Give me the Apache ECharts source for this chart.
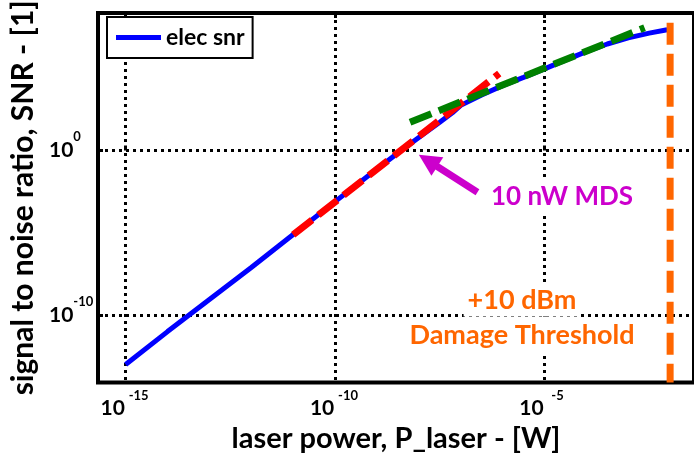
<!DOCTYPE html>
<html>
<head>
<meta charset="utf-8">
<script src="https://cdn.jsdelivr.net/npm/echarts@6/dist/echarts.min.js"></script>
<style>
  html, body { margin: 0; padding: 0; background: #fff; }
  #chart { width: 694px; height: 458px; }
</style>
</head>
<body>
<div id="chart"></div>
<script>
// All values are stored as base-10 exponents: power in W, SNR dimensionless.
// Electrical SNR versus laser power
const powerExp = [-15, -14, -13, -12, -11, -10, -9, -8.5, -8, -7.5, -7.2, -7, -6.5, -6, -5.5, -5, -4.5, -4, -3.5, -3, -2.5, -2.07];
const snrExp   = [-13.0, -11.0, -9.05, -7.1, -5.1, -3.1, -1.12, -0.15, 0.8, 1.72, 2.3, 2.75, 3.38, 3.95, 4.45, 4.97, 5.5, 6.02, 6.48, 6.85, 7.14, 7.35];

// Low-power asymptote (SNR ~ P^2)
const fitLowPowerExp = [-11.0, -6.08];
const fitLowSnrExp   = [-5.11, 4.69];

// High-power asymptote (SNR ~ P)
const fitHighPowerExp = [-8.21, -2.61];
const fitHighSnrExp   = [1.72, 7.47];

// Tick positions
const xTickExp = [-15, -10, -5];
const yTickExp = [0, -10];

// Annotations
const damageDbm = 10;          // laser damage threshold, dBm
const damageTopSnrExp = 7.77;  // top end of the threshold marker
const mdsWatts = 10e-9;        // minimum detectable signal, W
const mdsTipSnrExp = -0.25;
const mdsTailPowerExp = -6.6;
const mdsTailSnrExp = -2.53;

const X_MIN = -15.66, X_MAX = -1.43;
const Y_MIN = -14.1, Y_MAX = 8.36;

const FONT = 'Lato';
const damageExp = Math.log10(Math.pow(10, damageDbm / 10) / 1000);
const mdsExp = Math.log10(mdsWatts);

const zip = (xs, ys) => xs.map((x, i) => [x, ys[i]]);

const xRich = {
  b: { fontFamily: FONT, fontWeight: 'bold', fontSize: 21, color: '#000', width: 26, align: 'right', lineHeight: 38, verticalAlign: 'middle' },
  s: { fontFamily: FONT, fontWeight: 'bold', fontSize: 13, color: '#000', width: 26, align: 'left', lineHeight: 13, verticalAlign: 'top' }
};
const yRich = {
  b: { fontFamily: FONT, fontWeight: 'bold', fontSize: 21, color: '#000', lineHeight: 40, verticalAlign: 'middle' },
  s: { fontFamily: FONT, fontWeight: 'bold', fontSize: 13, color: '#000', lineHeight: 13, verticalAlign: 'top' }
};
const powLabel = v => '{b|10}{s|' + Math.round(v) + '}';

const dotted = { color: '#000', width: 3, type: [3, 4] };

const chart = echarts.init(document.getElementById('chart'), null, { renderer: 'canvas' });

chart.setOption({
  animation: false,
  backgroundColor: '#fff',
  grid: {
    left: 98, right: -6, top: 10, bottom: 70,
    show: true, borderColor: '#000', borderWidth: 4, backgroundColor: 'transparent',
    containLabel: false
  },
  legend: {
    left: 107, top: 17,
    padding: [9, 8, 9, 9],
    borderColor: '#000', borderWidth: 2, borderRadius: 0,
    backgroundColor: '#fff',
    itemWidth: 45, itemHeight: 5,
    data: [{ name: 'elec snr', icon: 'rect', itemStyle: { color: '#0000ff' } }],
    textStyle: { fontFamily: FONT, fontWeight: 'bold', fontSize: 23, color: '#000', lineHeight: 23 }
  },
  xAxis: [{
    type: 'value', min: X_MIN, max: X_MAX,
    name: 'laser power, P_laser - [W]', nameLocation: 'middle', nameGap: 38,
    nameTextStyle: { fontFamily: FONT, fontWeight: 'bold', fontSize: 29, color: '#000' },
    axisLine: { show: false },
    axisTick: { show: true, inside: true, length: 5, lineStyle: { color: '#000', width: 3 }, customValues: xTickExp },
    axisLabel: { show: true, margin: 7, customValues: xTickExp, formatter: powLabel, rich: xRich },
    splitLine: { show: true, lineStyle: dotted }
  }, {
    type: 'value', min: X_MIN, max: X_MAX, position: 'top',
    axisLine: { show: false },
    axisTick: { show: true, inside: true, length: 5, lineStyle: { color: '#000', width: 3 }, customValues: xTickExp },
    axisLabel: { show: false },
    splitLine: { show: false }
  }],
  yAxis: {
    type: 'value', min: Y_MIN, max: Y_MAX,
    name: 'signal to noise ratio, SNR - [1]', nameLocation: 'middle', nameGap: 55,
    nameTextStyle: { fontFamily: FONT, fontWeight: 'bold', fontSize: 30, color: '#000' },
    axisLine: { show: false },
    axisTick: { show: true, inside: true, length: 5, lineStyle: { color: '#000', width: 3 }, customValues: yTickExp },
    axisLabel: { show: true, margin: 49, align: 'left', customValues: yTickExp, formatter: powLabel, rich: yRich },
    splitLine: { show: true, lineStyle: dotted }
  },
  series: [{
    name: 'elec snr', type: 'line', data: zip(powerExp, snrExp),
    showSymbol: false, symbol: 'none', smooth: false, z: 2,
    lineStyle: { color: '#0000ff', width: 5 }
  }, {
    name: 'low-power fit', type: 'line', data: zip(fitLowPowerExp, fitLowSnrExp),
    symbol: 'none', z: 3,
    lineStyle: { color: '#ff0000', width: 7, type: [24, 8], cap: 'butt' }
  }, {
    name: 'high-power fit', type: 'line', data: zip(fitHighPowerExp, fitHighSnrExp),
    symbol: 'none', z: 4,
    lineStyle: { color: '#008000', width: 7, type: [23, 8], cap: 'butt' }
  }, {
    name: 'damage threshold', type: 'line', data: [[damageExp, damageTopSnrExp], [damageExp, Y_MIN]],
    symbol: 'none', z: 5,
    lineStyle: { color: '#ff6600', width: 7, type: [22, 9], cap: 'butt' }
  }]
});

// Annotations: MDS arrow and text callouts
const tip = chart.convertToPixel({ gridIndex: 0 }, [mdsExp, mdsTipSnrExp]);
const tail = chart.convertToPixel({ gridIndex: 0 }, [mdsTailPowerExp, mdsTailSnrExp]);
const dx = tip[0] - tail[0], dy = tip[1] - tail[1];
const len = Math.hypot(dx, dy);
const ux = dx / len, uy = dy / len;
const headLen = 22, headHalf = 11;
const base = [tip[0] - ux * headLen, tip[1] - uy * headLen];
const px = -uy, py = ux;
const magenta = '#cc00cc';
const orange = '#ff6600';

chart.setOption({
  graphic: [
    {
      type: 'line', z: 100,
      shape: { x1: tail[0], y1: tail[1], x2: base[0] + ux * 2, y2: base[1] + uy * 2 },
      style: { stroke: magenta, lineWidth: 7 }
    },
    {
      type: 'polygon', z: 100,
      shape: { points: [tip, [base[0] + px * headHalf, base[1] + py * headHalf], [base[0] - px * headHalf, base[1] - py * headHalf]] },
      style: { fill: magenta }
    },
    {
      type: 'text', z: 100, x: 562, y: 197,
      style: { text: '10 nW MDS', fontFamily: FONT, fontWeight: 'bold', fontSize: 26, fill: magenta,
        align: 'center', verticalAlign: 'middle', backgroundColor: '#fff', padding: [6, 6, 6, 6] }
    },
    {
      type: 'text', z: 100, x: 522, y: 300,
      style: { text: '+10 dBm', fontFamily: FONT, fontWeight: 'bold', fontSize: 27, fill: orange,
        align: 'center', verticalAlign: 'middle', backgroundColor: '#fff', padding: [4, 4, 2, 4] }
    },
    {
      type: 'text', z: 100, x: 522, y: 335,
      style: { text: 'Damage Threshold', fontFamily: FONT, fontWeight: 'bold', fontSize: 27, fill: orange,
        align: 'center', verticalAlign: 'middle', backgroundColor: '#fff', padding: [2, 10, 5, 10] }
    }
  ]
});
</script>
</body>
</html>
